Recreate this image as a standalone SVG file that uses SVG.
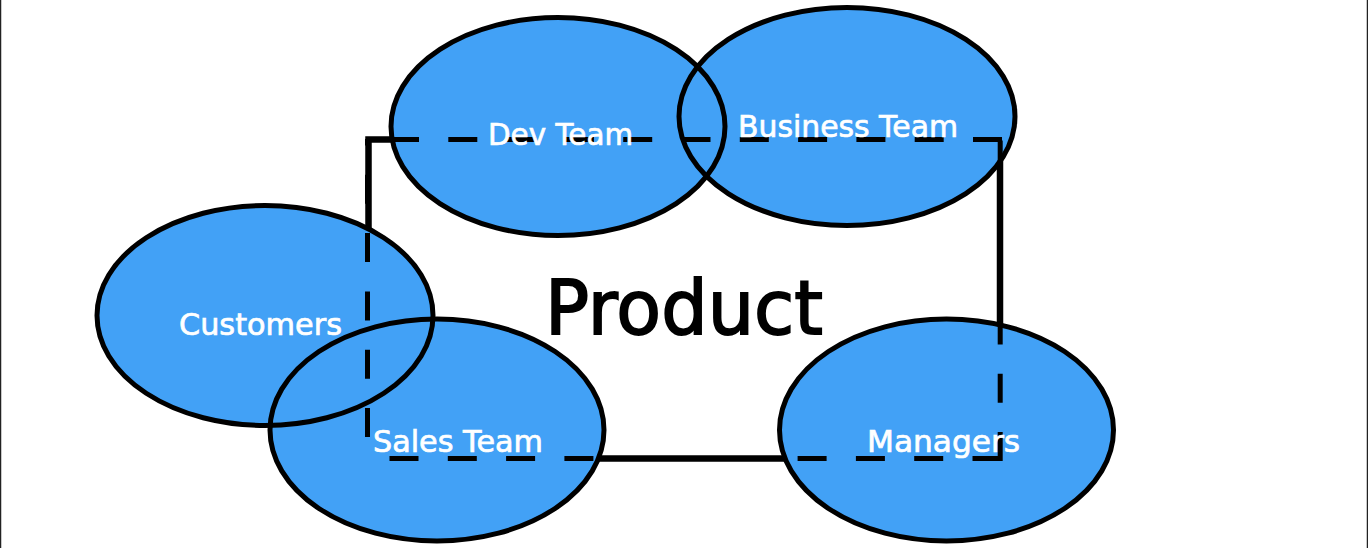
<svg xmlns="http://www.w3.org/2000/svg" width="1368" height="548" viewBox="0 0 1368 548">
<style>
.fill{fill:#42a1f6;stroke:none}
.edge{fill:none;stroke:#000;stroke-width:5}
.lbl{font-family:'DejaVu Sans',sans-serif;font-size:30px;fill:#fff;stroke:#fff;stroke-width:0.7;text-anchor:middle}
.title{font-family:'DejaVu Sans',sans-serif;font-size:74px;fill:#000;stroke:#000;stroke-width:1.8;text-anchor:middle}
.dash{fill:none;stroke:#000;stroke-width:5;stroke-dasharray:29 29.3}
</style>
<rect width="1368" height="548" fill="#fff"/>
<line x1="0.5" y1="0" x2="0.5" y2="548" stroke="#222" stroke-width="1.5"/>
<line x1="1367.5" y1="0" x2="1367.5" y2="548" stroke="#222" stroke-width="1.5"/>
<g id="product">
<rect x="368.5" y="139.5" width="631.5" height="319" fill="none" stroke="#000" stroke-width="6.5"/>
</g>
<g id="fills">
<ellipse class="fill" cx="558" cy="126.5" rx="167" ry="109"/>
<ellipse class="fill" cx="847" cy="116.5" rx="168" ry="109"/>
<ellipse class="fill" cx="265" cy="315.5" rx="168" ry="110"/>
<ellipse class="fill" cx="437" cy="430" rx="167" ry="111"/>
<ellipse class="fill" cx="946.5" cy="430" rx="167" ry="111"/>
</g>
<g id="dev-team"><ellipse class="edge" cx="558" cy="126.5" rx="167" ry="109"/></g>
<g id="business-team"><ellipse class="edge" cx="847" cy="116.5" rx="168" ry="109"/></g>
<g id="customers"><ellipse class="edge" cx="265" cy="315.5" rx="168" ry="110"/></g>
<g id="sales-team"><ellipse class="edge" cx="437" cy="430" rx="167" ry="111"/></g>
<g id="managers"><ellipse class="edge" cx="946.5" cy="430" rx="167" ry="111"/></g>
<g id="connectors">
<path class="dash" d="M1002,139.5 H369"/>
<path class="dash" d="M1001.5,458.5 H369"/>
<path class="dash" d="M1000.2,461 V139"/>
<path class="dash" d="M367.5,437 V139"/>
</g>
<g id="labels">
<text class="lbl" x="560.5" y="145" textLength="145" lengthAdjust="spacingAndGlyphs">Dev Team</text>
<text class="lbl" x="848" y="137" textLength="220" lengthAdjust="spacingAndGlyphs">Business Team</text>
<text class="lbl" x="260.5" y="335" textLength="163" lengthAdjust="spacingAndGlyphs">Customers</text>
<text class="lbl" x="458" y="451.5" textLength="170" lengthAdjust="spacingAndGlyphs">Sales Team</text>
<text class="lbl" x="943.5" y="452" textLength="153" lengthAdjust="spacingAndGlyphs">Managers</text>
<text class="title" x="684" y="334" textLength="278" lengthAdjust="spacingAndGlyphs">Product</text>
</g>
</svg>
